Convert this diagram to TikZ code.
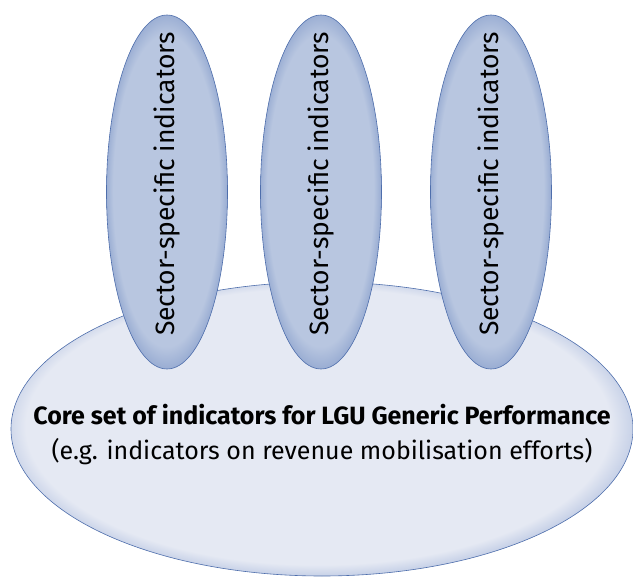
\documentclass[tikz,border=0pt]{standalone}
\usepackage{fontspec}
\setmainfont{Fira Sans}
\usetikzlibrary{shapes.geometric}
\definecolor{bigin}{RGB}{229,233,243}
\definecolor{bigout}{RGB}{180,194,224}
\definecolor{smin}{RGB}{184,198,224}
\definecolor{smout}{RGB}{140,162,205}
\definecolor{edge}{RGB}{78,110,172}
\pgfdeclareradialshading{bigglow}{\pgfpoint{-0.6bp}{0.8bp}}{color(0bp)=(bigin); color(23.5bp)=(bigin); color(26.5bp)=(bigout); color(50bp)=(bigout)}
\pgfdeclareradialshading{smglow}{\pgfpoint{-0.5bp}{0.3bp}}{color(0bp)=(smin); color(22bp)=(smin); color(26.5bp)=(smout); color(50bp)=(smout)}
\tikzset{
  bigell/.style={ellipse, draw=edge, line width=0.6pt, shading=bigglow, inner sep=0pt, minimum width=622pt, minimum height=294pt},
  smell/.style={ellipse, draw=edge, line width=0.6pt, shading=smglow, inner sep=0pt, minimum width=121pt, minimum height=354pt},
  smtext/.style={rotate=90, font=\fontsize{26.5}{30}\selectfont, inner sep=0pt},
  bigtext/.style={align=center, inner sep=0pt, font=\fontsize{25}{35}\selectfont}
}
\begin{document}
\begin{tikzpicture}[x=1pt,y=-1pt]
\useasboundingbox (0,0) rectangle (633,578);
\fill[white] (0,0) rectangle (633,578);
\node[bigell] (core) at (322,429) {};
\node[smell] (s1) at (167,192) {};
\node[smell] (s2) at (321,192) {};
\node[smell] (s3) at (491,192) {};
\node[smtext] (t1) at (167,184) {Sector-specific indicators};
\node[smtext] (t2) at (321,184) {Sector-specific indicators};
\node[smtext] (t3) at (491,184) {Sector-specific indicators};
\node[bigtext] (ct) at (322,435) {\textbf{Core set of indicators for LGU Generic Performance}\\(e.g. indicators on revenue mobilisation efforts)};
\end{tikzpicture}
\end{document}
